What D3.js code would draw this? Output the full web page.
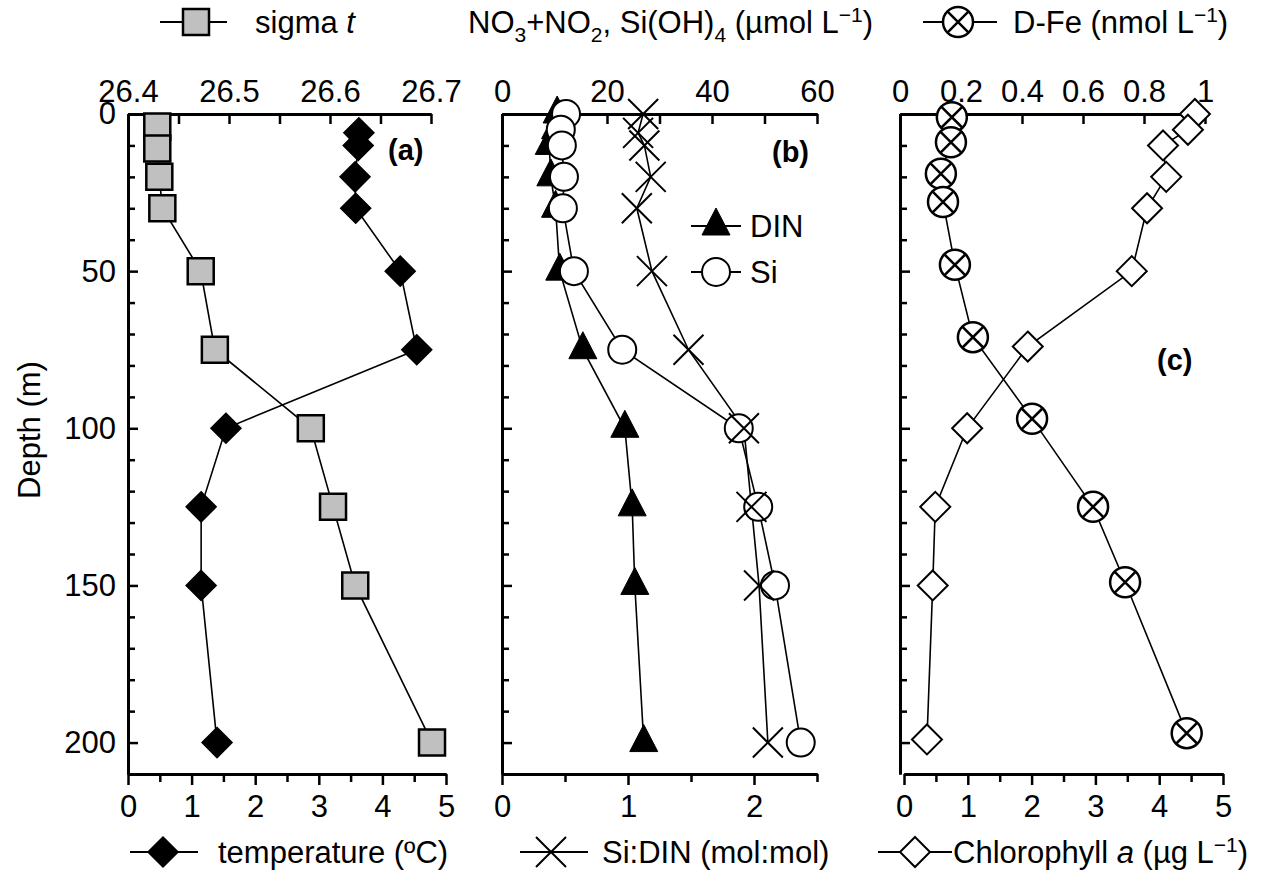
<!DOCTYPE html>
<html>
<head>
<meta charset="utf-8">
<script src="https://cdn.jsdelivr.net/npm/d3@7"></script>
<style>
  body { margin: 0; background: #fff; }
  svg text { font-family: "Liberation Sans", Arial, sans-serif; fill: #000; }
</style>
</head>
<body>
<svg id="chart" width="1272" height="877"></svg>
<script>
// ---- panel (a) ----
const sigmaDepth = [4, 11, 20, 30, 50, 75, 100, 125, 150, 200]
const sigmaT = [26.429, 26.429, 26.431, 26.434, 26.472, 26.486, 26.581, 26.603, 26.625, 26.701]
const tempDepth = [6, 10, 20, 30, 50, 75, 100, 125, 150, 200]
const temperature = [3.63, 3.62, 3.57, 3.58, 4.28, 4.54, 1.54, 1.15, 1.15, 1.40]

// ---- panel (b) ----
const nutDepth = [0, 5, 10, 20, 30, 50, 75, 100, 125, 150, 200]
const din = [10.5, 10.2, 9.0, 9.3, 10.2, 11.0, 15.4, 23.4, 24.8, 25.3, 27.0]
const si = [12.2, 11.2, 11.4, 11.8, 11.6, 13.7, 22.9, 45.1, 48.8, 52.0, 56.9]
const ratioDepth = [0, 6, 10, 20, 30, 50, 75, 100, 125, 150, 200]
const siDin = [1.12, 1.08, 1.13, 1.18, 1.07, 1.19, 1.48, 1.92, 1.98, 2.04, 2.11]

// ---- panel (c) ----
const feDepth = [1, 9, 19, 28, 48, 71, 97, 125, 149, 197]
const dFe = [0.170, 0.167, 0.134, 0.141, 0.180, 0.239, 0.433, 0.633, 0.738, 0.940]
const chlDepth = [0, 5, 10, 20, 30, 50, 74, 100, 125, 150, 199]
const chl = [4.56, 4.45, 4.06, 4.11, 3.81, 3.57, 1.94, 0.99, 0.49, 0.45, 0.36]

// tick values
const aTopMajor = [26.4, 26.5, 26.6, 26.7]
const aTopMinor = [26.45, 26.55, 26.65]
const bTopMajor = [0, 20, 40, 60]
const bTopMinor = [10, 30, 50]
const cTopMajor = [0, 0.2, 0.4, 0.6, 0.8, 1]
const fiveMajor = [0, 1, 2, 3, 4, 5]
const fiveMinor = [0.5, 1.5, 2.5, 3.5, 4.5]
const ratioMajor = [0, 1, 2]
const ratioMinor = [0.5, 1.5, 2.5]
const depthMajor = [0, 50, 100, 150, 200]
const depthMinor = d3.range(10, 210, 10).filter(d => d % 50 !== 0)

const fontSize = 31
const svg = d3.select("#chart")
const yTop = 114, yBot = 774
const y = d3.scaleLinear().domain([0, 210]).range([yTop, yBot])

const panels = {
  a: { left: 128,
       top: d3.scaleLinear().domain([26.4, 26.7]).range([128, 431]),
       bottom: d3.scaleLinear().domain([0, 5]).range([128, 446]) },
  b: { left: 502,
       top: d3.scaleLinear().domain([0, 60]).range([502, 817]),
       bottom: d3.scaleLinear().domain([0, 2.5]).range([502, 817]) },
  c: { left: 900,
       top: d3.scaleLinear().domain([0, 1]).range([900, 1205]),
       bottom: d3.scaleLinear().domain([0, 5]).range([904, 1223]) }
}

function styleAxis(g) {
  g.select(".domain").attr("stroke", "#000").attr("stroke-width", 3)
  g.selectAll(".tick line").attr("stroke", "#000").attr("stroke-width", 2.5)
  g.selectAll("text").style("font-size", fontSize + "px").attr("fill", "#000")
}

function drawAxes(p, topMajor, topMinor, botMajor, botMinor, withLabels) {
  // depth axis
  let g = svg.append("g").attr("transform", `translate(${p.left},0)`)
  g.call(d3.axisLeft(y).tickValues(depthMinor).tickSize(-7).tickSizeOuter(0).tickFormat(""))
  styleAxis(g)
  g = svg.append("g").attr("transform", `translate(${p.left},0)`)
  g.call(d3.axisLeft(y).tickValues(depthMajor).tickSize(-10).tickSizeOuter(0).tickPadding(12)
    .tickFormat(withLabels ? d3.format("d") : ""))
  styleAxis(g)

  // top axis
  g = svg.append("g").attr("transform", `translate(0,${yTop})`)
  g.call(d3.axisTop(p.top).tickValues(topMajor).tickSize(-10).tickSizeOuter(0).tickPadding(12)
    .tickFormat(d => String(+d.toFixed(2))))
  styleAxis(g)
  if (topMinor.length) {
    g = svg.append("g").attr("transform", `translate(0,${yTop})`)
    g.call(d3.axisTop(p.top).tickValues(topMinor).tickSize(-10).tickSizeOuter(0).tickFormat(""))
    styleAxis(g)
  }

  // bottom axis
  g = svg.append("g").attr("transform", `translate(0,${yBot})`)
  g.call(d3.axisBottom(p.bottom).tickValues(botMajor).tickSize(11).tickSizeOuter(0).tickPadding(10)
    .tickFormat(d3.format("d")))
  styleAxis(g)
  g = svg.append("g").attr("transform", `translate(0,${yBot})`)
  g.call(d3.axisBottom(p.bottom).tickValues(botMinor).tickSize(8).tickSizeOuter(0).tickFormat(""))
  styleAxis(g)
}

drawAxes(panels.a, aTopMajor, aTopMinor, fiveMajor, fiveMinor, true)
drawAxes(panels.b, bTopMajor, bTopMinor, ratioMajor, ratioMinor, false)
drawAxes(panels.c, cTopMajor, [], fiveMajor, fiveMinor, false)

// marker shapes
const shapes = {
  square: "M-13,-13h26v26h-26Z",
  diamond: "M0,-15L15,0L0,15L-15,0Z",
  triangle: "M0,-18L14,9L-14,9Z",
  cross: "M-15,-15L15,15M15,-15L-15,15",
  otimes: "M-10.6,-10.6L10.6,10.6M10.6,-10.6L-10.6,10.6"
}

function drawMarker(g, type, cx, cy) {
  const m = g.append("g").attr("transform", `translate(${cx},${cy})`)
  if (type === "square") {
    m.append("path").attr("d", shapes.square).attr("fill", "#c0c0c0").attr("stroke", "#000").attr("stroke-width", 2.5)
  } else if (type === "diamondFill") {
    m.append("path").attr("d", shapes.diamond).attr("fill", "#000").attr("stroke", "#000").attr("stroke-width", 1.5)
  } else if (type === "diamondOpen") {
    m.append("path").attr("d", shapes.diamond).attr("fill", "#fff").attr("stroke", "#000").attr("stroke-width", 2)
  } else if (type === "triangle") {
    m.append("path").attr("d", shapes.triangle).attr("fill", "#000").attr("stroke", "#000").attr("stroke-width", 1)
  } else if (type === "circle") {
    m.append("circle").attr("r", 14).attr("fill", "#fff").attr("stroke", "#000").attr("stroke-width", 2)
  } else if (type === "cross") {
    m.append("path").attr("d", shapes.cross).attr("fill", "none").attr("stroke", "#000").attr("stroke-width", 2)
  } else if (type === "otimes") {
    m.append("circle").attr("r", 15).attr("fill", "#fff").attr("stroke", "#000").attr("stroke-width", 2.5)
    m.append("path").attr("d", shapes.otimes).attr("fill", "none").attr("stroke", "#000").attr("stroke-width", 2.5)
  }
}

function series(xScale, values, depths, type) {
  const pts = values.map((v, i) => [xScale(v), y(depths[i])])
  return { pts, type }
}

function drawSeries(list) {
  const lines = svg.append("g")
  list.forEach(s => {
    lines.append("path").attr("d", d3.line()(s.pts))
      .attr("fill", "none").attr("stroke", "#000").attr("stroke-width", 1.6)
  })
  const marks = svg.append("g")
  list.forEach(s => s.pts.forEach(p => drawMarker(marks, s.type, p[0], p[1])))
}

drawSeries([
  series(panels.a.top, sigmaT, sigmaDepth, "square"),
  series(panels.a.bottom, temperature, tempDepth, "diamondFill")
])
drawSeries([
  series(panels.b.top, din, nutDepth, "triangle"),
  series(panels.b.top, si, nutDepth, "circle"),
  series(panels.b.bottom, siDin, ratioDepth, "cross")
])
drawSeries([
  series(panels.c.bottom, chl, chlDepth, "diamondOpen"),
  series(panels.c.top, dFe, feDepth, "otimes")
])

// panel letters
const letters = [["(a)", 388, 160], ["(b)", 772, 162], ["(c)", 1157, 370]]
letters.forEach(l => {
  svg.append("text").attr("x", l[1]).attr("y", l[2]).text(l[0])
    .style("font-size", "29px").style("font-weight", "bold")
})

// depth label
svg.append("text")
  .attr("transform", "translate(40,430) rotate(-90)")
  .attr("text-anchor", "middle")
  .style("font-size", fontSize + "px")
  .text("Depth (m)")

// legends
function legendKey(x1, x2, cx, cy, type) {
  const g = svg.append("g")
  g.append("line").attr("x1", x1).attr("x2", x2).attr("y1", cy).attr("y2", cy)
    .attr("stroke", "#000").attr("stroke-width", 2)
  drawMarker(g, type, cx, cy)
}

// segments: [text, kind] with kind "" | "sub" | "sup" | "it"
function richText(x, yb, segs) {
  const t = svg.append("text").attr("x", x).attr("y", yb).style("font-size", fontSize + "px")
  let shift = 0
  segs.forEach(([s, kind]) => {
    const want = kind === "sub" ? 9 : kind === "sup" ? -11 : 0
    const ts = t.append("tspan").attr("dy", want - shift).text(s)
    if (kind === "sub" || kind === "sup") ts.style("font-size", "21px")
    if (kind === "it") ts.style("font-style", "italic")
    shift = want
  })
  return t
}

legendKey(160, 227, 196, 22, "square")
richText(255, 33, [["sigma ", ""], ["t", "it"]])

richText(468, 33, [["NO", ""], ["3", "sub"], ["+NO", ""], ["2", "sub"], [", Si(OH)", ""], ["4", "sub"],
  [" (µmol L", ""], ["−1", "sup"], [")", ""]])

legendKey(923, 997, 958, 22, "otimes")
richText(1013, 33, [["D-Fe (nmol L", ""], ["−1", "sup"], [")", ""]])

legendKey(130, 198, 163, 852, "diamondFill")
richText(218, 863, [["temperature (ºC)", ""]])

legendKey(520, 588, 551, 852, "cross")
richText(602, 863, [["Si:DIN (mol:mol)", ""]])

legendKey(878, 952, 915, 852, "diamondOpen")
richText(953, 863, [["Chlorophyll ", ""], ["a", "it"], [" (µg L", ""], ["−1", "sup"], [")", ""]])

// inner legend of panel (b)
legendKey(691, 741, 716, 226, "triangle")
richText(750, 237, [["DIN", ""]])
legendKey(691, 741, 716, 272, "circle")
richText(750, 283, [["Si", ""]])
</script>
</body>
</html>
